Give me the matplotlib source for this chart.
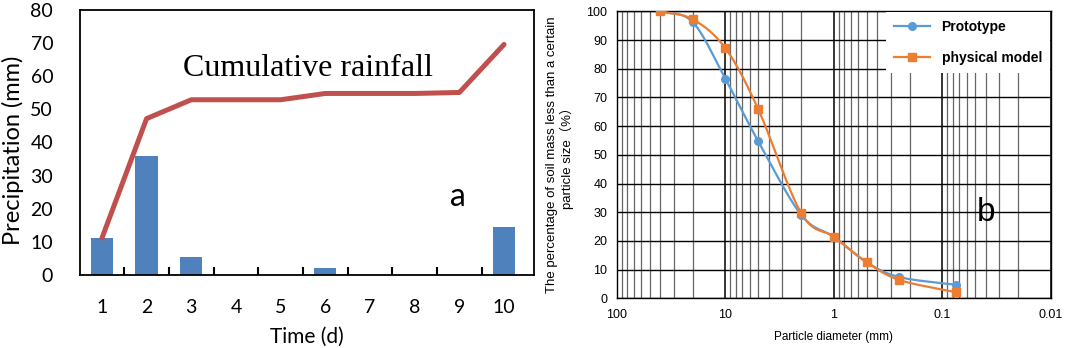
import numpy as np
import matplotlib
matplotlib.use("Agg")
import matplotlib.pyplot as plt
from matplotlib.ticker import FixedLocator, NullFormatter, FuncFormatter

# panel a data
days = [1, 2, 3, 4, 5, 6, 7, 8, 9, 10]
daily_rain = [11.3, 35.8, 5.5, 0, 0, 2.1, 0, 0, 0, 14.4]
cum_rain = [11.1, 47.2, 52.9, 52.9, 52.9, 54.8, 54.8, 54.8, 55.1, 69.6]

# panel b data
diameter = [40, 20, 10, 5, 2, 1, 0.5, 0.25, 0.075]
prototype = [100, 96.2, 76.4, 54.8, 29.0, 21.4, 12.6, 7.4, 4.7]
phys_model = [100, 97.2, 87.1, 66.0, 29.6, 21.4, 12.6, 6.4, 2.1]


def smooth(xs, ys, n=30):
    # catmull-rom in log(x) space, like excel's smoothed line
    lx = np.log10(xs)
    y = np.asarray(ys, float)
    px = np.concatenate([[2 * lx[0] - lx[1]], lx, [2 * lx[-1] - lx[-2]]])
    py = np.concatenate([[2 * y[0] - y[1]], y, [2 * y[-1] - y[-2]]])
    outx, outy = [], []
    t = np.linspace(0, 1, n)
    for i in range(1, len(px) - 2):
        for arr, out in ((px, outx), (py, outy)):
            p0, p1, p2, p3 = arr[i - 1], arr[i], arr[i + 1], arr[i + 2]
            out.extend(0.5 * (2 * p1 + (-p0 + p2) * t
                              + (2 * p0 - 5 * p1 + 4 * p2 - p3) * t ** 2
                              + (-p0 + 3 * p1 - 3 * p2 + p3) * t ** 3))
    return 10 ** np.array(outx), np.array(outy)


fig = plt.figure(figsize=(10.65, 3.48), dpi=100)

# ---- panel a ----
ax1 = fig.add_axes([0.0747, 0.2098, 0.4267, 0.7615])
ax1.bar(days, daily_rain, width=0.5, color="#4F81BD", zorder=2)
ax1.plot(days, cum_rain, color="#C0504D", lw=3.6, solid_capstyle="round", zorder=3)
ax1.set_xlim(0.5, 10.67)
ax1.set_ylim(0, 80)
ax1.set_yticks(range(0, 81, 10))
ax1.xaxis.set_major_locator(FixedLocator([1.5 + i for i in range(9)]))
ax1.xaxis.set_major_formatter(NullFormatter())
ax1.xaxis.set_minor_locator(FixedLocator(days))
ax1.xaxis.set_minor_formatter(FuncFormatter(lambda v, p: "%d" % v))
ax1.tick_params(axis="x", which="major", direction="in", length=6, width=1.5,
                color="black", top=False)
ax1.tick_params(axis="x", which="minor", length=0, pad=17, labelsize=14)
ax1.tick_params(axis="y", length=0, pad=19, labelsize=14)
for lab in ax1.get_xticklabels(minor=True) + ax1.get_yticklabels():
    lab.set_family("Lato")
for s in ax1.spines.values():
    s.set_linewidth(1.3)
ax1.set_xlabel("Time (d)", fontsize=15, family="Lato", labelpad=8)
ax1.set_ylabel("Precipitation (mm)", fontsize=17, family="Lato")
ax1.yaxis.set_label_coords(-0.122, 0.47)
ax1.text(5.62, 60, "Cumulative rainfall", family="Liberation Serif", fontsize=23,
         ha="center", va="baseline")
ax1.text(8.96, 23.5, "a", family="Lato", fontsize=23, ha="center", va="center")

# ---- panel b ----
ax2 = fig.add_axes([0.5793, 0.1428, 0.4075, 0.8247])
ax2.set_xscale("log")
ax2.set_xlim(100, 0.01)
ax2.set_ylim(0, 100)
ax2.set_yticks(range(0, 101, 10))
ax2.set_xticks([100, 10, 1, 0.1, 0.01])
ax2.xaxis.set_major_formatter(FuncFormatter(lambda v, p: ("%g" % v)))
ax2.xaxis.set_minor_locator(FixedLocator(
    [m * 10.0 ** e for e in range(-2, 2) for m in range(2, 10)]))
ax2.xaxis.set_minor_formatter(NullFormatter())
ax2.grid(True, which="major", axis="x", color="black", lw=1.1, zorder=0)
ax2.grid(True, which="minor", axis="x", color="#666666", lw=0.9, zorder=0)
ax2.grid(True, which="major", axis="y", color="black", lw=1.0, zorder=0)
ax2.set_axisbelow(True)
ax2.tick_params(which="both", length=0)
ax2.tick_params(axis="y", pad=7, labelsize=9)
ax2.tick_params(axis="x", pad=8, labelsize=9)
for lab in ax2.get_xticklabels() + ax2.get_yticklabels():
    lab.set_family("Liberation Sans")
for s in ax2.spines.values():
    s.set_linewidth(1.0)

bx, by = smooth(diameter, prototype)
ax2.plot(bx, by, color="#5B9BD5", lw=1.6, zorder=3)
ax2.plot(diameter, prototype, "o", color="#5B9BD5", ms=5.5, zorder=4)
ox, oy = smooth(diameter, phys_model)
ax2.plot(ox, oy, color="#ED7D31", lw=1.6, zorder=3)
ax2.plot(diameter, phys_model, "s", color="#ED7D31", ms=6, zorder=5)

h1, = ax2.plot([], [], "-o", color="#5B9BD5", lw=1.6, ms=5.5)
h2, = ax2.plot([], [], "-s", color="#ED7D31", lw=1.6, ms=6)
leg = ax2.legend([h1, h2], ["Prototype", "physical model"], loc="upper right",
                 frameon=True, fancybox=False, edgecolor="none", framealpha=1,
                 borderaxespad=0.05, borderpad=0.6, handlelength=2.6, labelspacing=1.2,
                 prop={"family": "Liberation Sans", "size": 10, "weight": "bold"})

ax2.set_xlabel("Particle diameter (mm)", fontsize=8.5, family="Liberation Sans", labelpad=7)
ax2.set_ylabel("The percentage of soil mass less than a certain\nparticle size\uff08%\uff09",
               fontsize=9.5, family=["Liberation Sans", "Noto Sans CJK SC"], labelpad=9,
               linespacing=1.15)
ax2.text(0.04, 30, "b", family="Liberation Sans", fontsize=24, ha="center", va="center")

fig.savefig("out.png", dpi=100)
